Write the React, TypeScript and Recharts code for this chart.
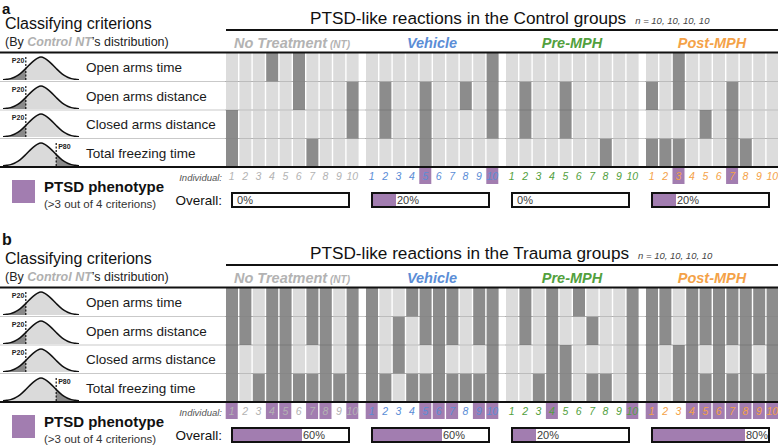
import React from 'react';
import { BarChart, Bar, XAxis, YAxis, Cell, ReferenceLine, ComposedChart, Area, Line, LabelList } from 'recharts';

const FONT = '"Liberation Sans", Arial, Helvetica, sans-serif';
const PURPLE = '#a27db0';
const DARK = '#8c8c8c';
const LIGHT = '#dcdcdc';

const groupNames = ['No Treatment', 'Vehicle', 'Pre-MPH', 'Post-MPH'];
const groupColors = ['#b3b3b3', '#5b8dd6', '#52a03d', '#f4a248'];
const criteria = ['Open arms time', 'Open arms distance', 'Closed arms distance', 'Total freezing time'];
const percentiles = ['P20', 'P20', 'P20', 'P80'];
const individuals = [1, 2, 3, 4, 5, 6, 7, 8, 9, 10];
const nLabel = 'n = 10, 10, 10, 10';

// schematic distribution used in the criterion icons
const bellX = [0, 1, 2, 3, 4, 5, 6, 7, 8, 9, 10, 11, 12, 13, 14, 15, 16, 17, 18, 19, 20];
const bellY = [0.01, 0.03, 0.06, 0.12, 0.21, 0.34, 0.5, 0.67, 0.82, 0.94, 1, 0.94, 0.82, 0.67, 0.5, 0.34, 0.21, 0.12, 0.06, 0.03, 0.01];
const cutP20 = 6;
const cutP80 = 14;

// 1 = criterion met; rows follow `criteria`, columns follow `individuals`
const controlNT = [
  [0, 0, 0, 1, 0, 1, 0, 0, 0, 0],
  [0, 0, 0, 0, 0, 1, 0, 0, 0, 1],
  [1, 0, 0, 0, 0, 0, 0, 0, 0, 1],
  [1, 0, 0, 0, 0, 0, 1, 0, 0, 0],
];
const controlVehicle = [
  [0, 0, 0, 0, 0, 0, 0, 0, 0, 1],
  [0, 1, 0, 0, 1, 0, 0, 1, 0, 1],
  [0, 1, 0, 0, 1, 0, 0, 0, 0, 1],
  [0, 0, 0, 0, 1, 0, 0, 0, 0, 0],
];
const controlPre = [
  [0, 0, 0, 0, 0, 0, 0, 0, 0, 0],
  [0, 1, 0, 0, 1, 0, 0, 0, 0, 0],
  [0, 1, 0, 0, 1, 0, 0, 0, 0, 0],
  [0, 0, 0, 0, 0, 0, 0, 1, 0, 0],
];
const controlPost = [
  [0, 0, 1, 0, 0, 0, 0, 0, 0, 0],
  [1, 0, 1, 0, 0, 0, 1, 0, 0, 0],
  [0, 0, 0, 0, 1, 0, 1, 0, 0, 0],
  [1, 1, 1, 0, 0, 0, 1, 1, 0, 0],
];
const traumaNT = [
  [1, 1, 0, 1, 1, 0, 1, 1, 0, 1],
  [1, 1, 0, 1, 1, 0, 1, 1, 0, 1],
  [1, 0, 0, 1, 1, 0, 0, 1, 0, 1],
  [1, 0, 1, 1, 1, 1, 1, 1, 1, 1],
];
const traumaVehicle = [
  [1, 0, 0, 1, 1, 1, 1, 0, 1, 1],
  [1, 0, 1, 0, 1, 1, 1, 0, 1, 1],
  [1, 0, 1, 0, 0, 1, 0, 0, 0, 1],
  [1, 1, 0, 1, 1, 1, 1, 1, 1, 1],
];
const traumaPre = [
  [0, 1, 0, 1, 0, 1, 0, 0, 0, 1],
  [0, 1, 0, 1, 0, 0, 1, 0, 0, 1],
  [0, 0, 0, 1, 1, 0, 0, 0, 0, 1],
  [0, 0, 1, 1, 1, 0, 1, 1, 0, 1],
];
const traumaPost = [
  [1, 1, 0, 1, 1, 1, 1, 1, 1, 1],
  [1, 1, 0, 1, 1, 1, 1, 1, 1, 1],
  [1, 0, 1, 1, 0, 1, 0, 1, 0, 1],
  [1, 0, 1, 1, 1, 1, 1, 1, 1, 1],
];

const controlGroups = [controlNT, controlVehicle, controlPre, controlPost];
const traumaGroups = [traumaNT, traumaVehicle, traumaPre, traumaPost];

const GRID_LEFT = 225;
const GRID_STEP = 140;
const GRID_W = 134;
const ROWS_TOP = 53;
const ROWS_H = 114;
const ROW_H = ROWS_H / 4;

const ptsdFlags = (rows: number[][]) =>
  individuals.map((_, i) => rows.reduce((s, r) => s + r[i], 0) >= 3);

const bellData = bellX.map((x, i) => ({
  x,
  y: bellY[i],
  lo: x <= cutP20 ? bellY[i] : null,
  hi: x >= cutP80 ? bellY[i] : null,
}));

const CurveIcon = ({ pct }: { pct: string }) => {
  const low = pct === 'P20';
  const cut = low ? cutP20 : cutP80;
  return (
    <ComposedChart width={76} height={25} data={bellData} margin={{ top: 2, right: 0, bottom: 0, left: 0 }}>
      <XAxis type="number" dataKey="x" domain={[0, 20]} hide />
      <YAxis domain={[0, 1]} hide />
      <Area dataKey="y" type="monotone" fill="#dadada" fillOpacity={1} stroke="none" isAnimationActive={false} />
      <Area dataKey={low ? 'lo' : 'hi'} type="monotone" fill="#8a8a8a" fillOpacity={1} stroke="none" isAnimationActive={false} />
      <Line dataKey="y" type="monotone" stroke="#111" strokeWidth={1.5} dot={false} isAnimationActive={false} />
      <ReferenceLine
        x={cut}
        stroke="#111"
        strokeWidth={1.2}
        strokeDasharray="2 1.5"
        label={(p: any) => (
          <text
            x={low ? p.viewBox.x - 1.5 : p.viewBox.x + 2}
            y={p.viewBox.y + 6}
            textAnchor={low ? 'end' : 'start'}
            fontSize={7}
            fontWeight="bold"
            fill="#222"
            fontFamily={FONT}
          >
            {pct}
          </text>
        )}
      />
    </ComposedChart>
  );
};

const IndividualTick = ({ x, y, index, payload, color, flags }: any) => (
  <g>
    {flags[index] && <rect x={x - 6} y={y + 1} width={12} height={16} fill={PURPLE} />}
    <text x={x} y={y + 13} textAnchor="middle" fontSize={10.5} fontStyle="italic" fill={color} fontFamily={FONT}>
      {payload.value}
    </text>
  </g>
);

const GroupGrid = ({ rows, color }: { rows: number[][]; color: string }) => {
  const data = individuals.map((id) => ({ id, r1: 1, r2: 1, r3: 1, r4: 1 }));
  const flags = ptsdFlags(rows);
  return (
    <BarChart width={GRID_W} height={ROWS_H + 18} data={data} margin={{ top: 0, right: 0, bottom: 0, left: 0 }} barSize={12}>
      <XAxis
        dataKey="id"
        height={18}
        axisLine={false}
        tickLine={false}
        tickSize={0}
        tickMargin={0}
        interval={0}
        tick={(p: any) => <IndividualTick {...p} color={color} flags={flags} />}
      />
      <YAxis hide domain={[0, 4]} />
      {[3, 2, 1, 0].map((k) => (
        <Bar key={k} dataKey={`r${k + 1}`} stackId="s" isAnimationActive={false}>
          {data.map((_, i) => (
            <Cell key={i} fill={rows[k][i] ? DARK : LIGHT} />
          ))}
        </Bar>
      ))}
      {[1, 2, 3].map((v) => (
        <ReferenceLine key={v} y={v} stroke="#000" strokeOpacity={0.13} />
      ))}
    </BarChart>
  );
};

// label sits at the start of the empty remainder, i.e. right after the purple fill
const OverallLabel = ({ x, y, height, value }: any) => (
  <text
    x={value > 0 ? x + 1 : x + 4}
    y={y + height / 2 + 4}
    fontSize={11}
    fill="#3a3a3a"
    fontFamily={FONT}
  >
    {value}%
  </text>
);

const OverallBar = ({ rows }: { rows: number[][] }) => {
  const flags = ptsdFlags(rows);
  const pct = (flags.filter(Boolean).length / flags.length) * 100;
  const data = [{ name: 'overall', value: pct, rest: 100 - pct }];
  return (
    <BarChart layout="vertical" width={115} height={12} data={data} margin={{ top: 0, right: 0, bottom: 0, left: 0 }} barCategoryGap={0}>
      <XAxis type="number" domain={[0, 100]} hide />
      <YAxis type="category" dataKey="name" hide />
      <Bar dataKey="value" stackId="o" fill={PURPLE} isAnimationActive={false} />
      <Bar dataKey="rest" stackId="o" fill="#fff" fillOpacity={0} isAnimationActive={false}>
        <LabelList dataKey="value" content={OverallLabel} />
      </Bar>
    </BarChart>
  );
};

const Panel = ({ top, letter, letterY, letterSize, groupLabel, groups }: any) => (
  <div style={{ position: 'absolute', left: 0, top, width: 778, height: 235 }}>
    <svg width={778} height={235} style={{ position: 'absolute', left: 0, top: 0 }}>
      {[1, 2, 3].map((k) => (
        <line key={k} x1={0} x2={778} y1={ROWS_TOP + ROW_H * k} y2={ROWS_TOP + ROW_H * k} stroke="#c9c9c9" strokeWidth={1} />
      ))}
    </svg>

    {criteria.map((c, k) => (
      <div key={c} style={{ position: 'absolute', left: 3, top: ROWS_TOP + ROW_H * k + 2 }}>
        <CurveIcon pct={percentiles[k]} />
      </div>
    ))}

    {groups.map((rows: number[][], g: number) => (
      <div key={g} style={{ position: 'absolute', left: GRID_LEFT + GRID_STEP * g, top: ROWS_TOP }}>
        <GroupGrid rows={rows} color={groupColors[g]} />
      </div>
    ))}

    {groups.map((rows: number[][], g: number) => (
      <div
        key={g}
        style={{
          position: 'absolute',
          left: GRID_LEFT + 6 + GRID_STEP * g,
          top: 192,
          width: 119,
          height: 16,
          border: '2px solid #111',
          boxSizing: 'border-box',
        }}
      >
        <OverallBar rows={rows} />
      </div>
    ))}

    <svg
      width={778}
      height={235}
      style={{ position: 'absolute', left: 0, top: 0, pointerEvents: 'none', overflow: 'visible' }}
      fontFamily={FONT}
    >
      <text x={2} y={letterY} fontSize={letterSize} fontWeight="bold" fill="#111">{letter}</text>
      <text x={5} y={29} fontSize={16} fill="#111">Classifying criterions</text>
      <text x={5} y={46} fontSize={12.5} fill="#222">
        (By <tspan fill="#b0b0b0" fontStyle="italic" fontWeight="bold">Control NT</tspan>’s distribution)
      </text>
      <text x={310} y={24} fontSize={17.2} fill="#111">
        {`PTSD-like reactions in the ${groupLabel} groups`}
        <tspan dx={9} fontSize={9.5} fontStyle="italic" fill="#444">{nLabel}</tspan>
      </text>
      <rect x={226} y={29} width={552} height={2} fill="#111" />
      {groupNames.map((name, g) => (
        <text
          key={name}
          x={GRID_LEFT + GRID_STEP * g + GRID_W / 2}
          y={48}
          textAnchor="middle"
          fontSize={14.5}
          fontWeight="bold"
          fontStyle="italic"
          fill={groupColors[g]}
        >
          {name}
          {g === 0 && <tspan fontSize={10}> (NT)</tspan>}
        </text>
      ))}
      <rect x={0} y={51.5} width={778} height={2} fill="#111" />
      <rect x={0} y={166} width={778} height={2} fill="#111" />
      {criteria.map((c, k) => (
        <text key={c} x={86} y={ROWS_TOP + ROW_H * k + ROW_H / 2 + 5} fontSize={13.5} fill="#1a1a1a">
          {c}
        </text>
      ))}
      <rect x={12} y={180} width={23} height={23} fill={PURPLE} />
      <text x={44} y={192} fontSize={15} fontWeight="bold" fill="#111">PTSD phenotype</text>
      <text x={44} y={208} fontSize={11.5} fill="#333">(&gt;3 out of 4 criterions)</text>
      <text x={222} y={181} textAnchor="end" fontSize={9.5} fontStyle="italic" fill="#555">Individual:</text>
      <text x={222} y={205} textAnchor="end" fontSize={13.5} fill="#111">Overall:</text>
    </svg>
  </div>
);

export default function App() {
  return (
    <div
      style={{
        position: 'fixed',
        left: 0,
        top: 0,
        width: 778,
        height: 445,
        background: '#fff',
        overflow: 'hidden',
        fontFamily: FONT,
      }}
    >
      <Panel top={0} letter="a" letterY={13.5} letterSize={15} groupLabel="Control" groups={controlGroups} />
      <Panel top={235} letter="b" letterY={10} letterSize={16} groupLabel="Trauma" groups={traumaGroups} />
    </div>
  );
}
